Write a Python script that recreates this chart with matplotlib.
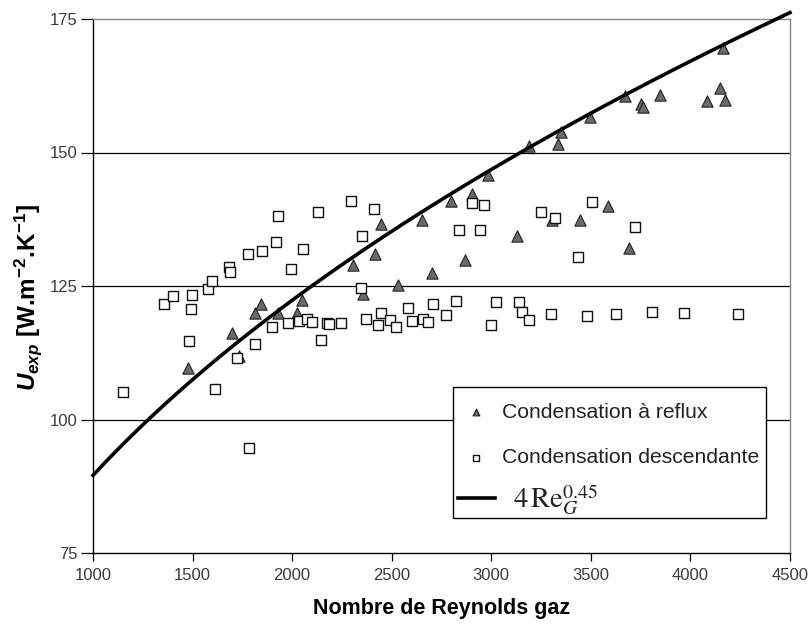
import numpy as np
import matplotlib
matplotlib.use("Agg")
import matplotlib.pyplot as plt
from matplotlib.patches import Rectangle

plt.rcParams['font.family'] = ['Liberation Sans', 'DejaVu Sans']
plt.rcParams['mathtext.fontset'] = 'custom'
plt.rcParams['mathtext.rm'] = 'Liberation Sans:bold'
plt.rcParams['mathtext.it'] = 'Liberation Sans:bold:italic'
plt.rcParams['mathtext.bf'] = 'Liberation Sans:bold'

# Condensation à reflux (triangles)
reflux_re = [1479, 1697, 1733, 1814, 1844, 1929, 2023, 2051, 2306, 2354, 2418, 2448,
             2533, 2654, 2702, 2796, 2868, 2902, 2985, 3131, 3191, 3304, 3334, 3349,
             3444, 3496, 3585, 3672, 3692, 3750, 3764, 3845, 4083, 4149, 4162, 4176]
reflux_u = [109.6, 116.2, 111.9, 119.9, 121.7, 119.9, 119.9, 122.4, 128.9, 123.5, 131.0, 136.7,
            125.2, 137.4, 127.5, 141.0, 129.9, 142.2, 145.7, 134.3, 151.3, 137.4, 151.6, 153.9,
            137.4, 156.6, 139.9, 160.6, 132.2, 159.0, 158.6, 160.8, 159.6, 162.1, 169.6, 159.8]

# Condensation descendante (squares)
desc_re = [1152, 1357, 1400, 1484, 1490, 1496, 1578, 1598, 1611, 1683, 1690, 1725,
           1777, 1783, 1814, 1850, 1897, 1919, 1931, 1978, 1994, 2035, 2056, 2073,
           2098, 2132, 2145, 2174, 2187, 2245, 2294, 2344, 2352, 2371, 2413, 2430,
           2446, 2493, 2522, 2580, 2603, 2657, 2681, 2709, 2774, 2821, 2838, 2902,
           2945, 2965, 2997, 3022, 3138, 3156, 3190, 3250, 3299, 3322, 3437, 3479,
           3504, 3625, 3722, 3809, 3970, 4241]
desc_u = [105.2, 121.7, 123.1, 114.7, 120.7, 123.4, 124.5, 126.0, 105.8, 128.5, 127.7, 111.6,
          130.9, 94.7, 114.2, 131.6, 117.4, 133.3, 138.2, 118.0, 128.2, 118.5, 132.0, 118.8,
          118.2, 138.8, 114.9, 118.1, 117.9, 118.1, 140.9, 124.6, 134.3, 118.9, 139.5, 117.7,
          120.0, 118.7, 117.4, 120.8, 118.5, 118.8, 118.3, 121.6, 119.5, 122.1, 135.5, 140.6,
          135.4, 140.2, 117.7, 122.0, 122.0, 120.1, 118.7, 138.8, 119.8, 137.8, 130.4, 119.4,
          140.8, 119.8, 136.1, 120.1, 119.9, 119.7]

# Correlation U = 4 Re_G^0.45
corr_coef = 4.0
corr_exp = 0.45
re_min, re_max = 1000, 4500

x_ticks = [1000, 1500, 2000, 2500, 3000, 3500, 4000, 4500]
y_ticks = [75, 100, 125, 150, 175]

fig = plt.figure(figsize=(8.11, 6.25), dpi=100)
ax = fig.add_axes([0.1147, 0.1152, 0.8594, 0.8544])

for y in [100, 125, 150]:
    ax.axhline(y, color='black', lw=0.9, zorder=1)

re_line = np.linspace(re_min, re_max, 300)
line, = ax.plot(re_line, corr_coef * re_line ** corr_exp, color='black', lw=2.6,
                zorder=4, clip_on=False)
sc1 = ax.scatter(reflux_re, reflux_u, marker='^', s=66, facecolor='#6a6a6a',
                 edgecolor='#222222', linewidth=0.8, zorder=3)
sc2 = ax.scatter(desc_re, desc_u, marker='s', s=52, facecolor='white',
                 edgecolor='#111111', linewidth=1.0, zorder=3)

ax.set_xlim(re_min, re_max)
ax.set_ylim(75, 175)
ax.set_xticks(x_ticks)
ax.set_yticks(y_ticks)
ax.tick_params(direction='out', width=0.9, labelsize=12,
               labelcolor='#3a3a3a', color='black')
ax.tick_params(axis='x', length=5.5, pad=5)
ax.tick_params(axis='y', length=9, pad=2)
for s in ['left', 'bottom']:
    ax.spines[s].set_color('black')
    ax.spines[s].set_linewidth(1.0)
for s in ['top', 'right']:
    ax.spines[s].set_color('#888888')
    ax.spines[s].set_linewidth(1.0)

ax.set_xlabel('Nombre de Reynolds gaz', fontsize=15.5, fontweight='bold', labelpad=11)
ax.set_ylabel(r'$U_{exp}$ [W.m$^{-2}$.K$^{-1}$]', fontsize=17.5, fontweight='bold')
ax.yaxis.set_label_coords(-0.070, 0.479)

# legend box
ax.add_patch(Rectangle((0.5165, 0.0655), 0.449, 0.2453, transform=ax.transAxes,
                       facecolor='white', edgecolor='black', lw=1.0, zorder=5))

leg1 = ax.legend([sc1, sc2], ['Condensation à reflux', 'Condensation descendante'],
                 loc='center left', bbox_to_anchor=(0.5237, 0.221), fontsize=15.2,
                 frameon=False, labelspacing=1.24, handlelength=1.75, borderpad=0,
                 handletextpad=0.33, markerscale=0.6, borderaxespad=0)
leg1.set_zorder(6)
for t in leg1.get_texts():
    t.set_color('#222222')
ax.add_artist(leg1)

leg2 = ax.legend([line], [r'$4\,\mathrm{Re}_{G}^{0.45}$'],
                 loc='center left', bbox_to_anchor=(0.5237, 0.0993), fontsize=20.5,
                 frameon=False, handlelength=1.3, borderpad=0, handletextpad=0.63,
                 borderaxespad=0)
leg2.set_zorder(6)
leg2.get_texts()[0].set_math_fontfamily('stix')
leg2.get_texts()[0].set_color('#222222')

fig.savefig('out.png', dpi=100)
